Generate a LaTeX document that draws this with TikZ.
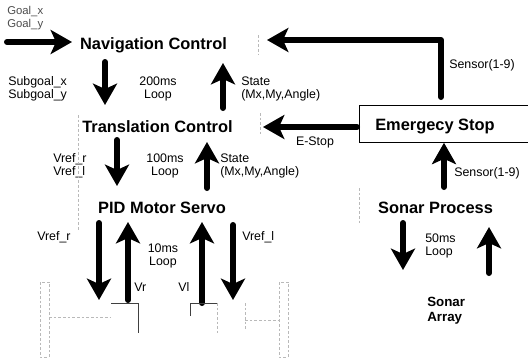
\documentclass[tikz,border=0pt]{standalone}
\usepackage{fontspec}
\setmainfont{Liberation Sans}
\usetikzlibrary{arrows.meta}

\begin{document}
\begin{tikzpicture}[x=0.75pt, y=-0.75pt,
    bigarrow/.style={line width=4.5pt, line cap=round, line join=round,
        -{Stealth[length=16pt, width=18pt, inset=4pt]}},
    title/.style={font=\fontsize{12.3}{14}\selectfont\bfseries, inner sep=0pt},
    lbl/.style={font=\fontsize{9.3}{9.75}\selectfont, inner sep=0pt},
    ghost/.style={gray!55, line width=0.4pt, dash pattern=on 2pt off 1.5pt},
    frame/.style={black!75, line width=0.5pt}]
    \useasboundingbox (0,0) rectangle (528,361);

    % Blocks
    \node[title] (nav) at (153.5,45) {Navigation Control};
    \node[title] (trans) at (157.5,127) {Translation Control};
    \node[title] (pid) at (162,208) {PID Motor Servo};
    \node[draw, line width=0.6pt, minimum width=130pt, minimum height=27.75pt,
        anchor=north west, inner sep=0pt] (estopbox) at (359,105) {};
    \node[title] (estop) at (435,127) {Emergecy Stop};
    \node[title] (sonar) at (435.5,208) {Sonar Process};
    \node[title, font=\fontsize{10}{11.25}\selectfont\bfseries, align=left, anchor=west]
        (array) at (427,310.5) {Sonar\\Array};

    % Goal input
    \node[lbl, black!70, font=\fontsize{8.5}{9.75}\selectfont, align=left, anchor=west]
        (goal) at (7,18.5) {Goal\_x\\Goal\_y};
    \coordinate (goal tail) at (7,42);
    \coordinate (goal tip) at (72,42);
    \draw[bigarrow] (goal tail) -- (goal tip);

    % Navigation <-> Translation (200ms)
    \node[lbl, align=left, anchor=west] (subgoal) at (8,88.5) {Subgoal\_x\\Subgoal\_y};
    \node[lbl, align=center] (loop200) at (158,88.5) {200ms\\Loop};
    \node[lbl, align=left, anchor=west] (state1) at (241,88.5) {State\\(Mx,My,Angle)};
    \coordinate (nd tail) at (105,62);
    \coordinate (nd tip) at (105,105);
    \coordinate (nu tail) at (223,108);
    \coordinate (nu tip) at (223,63);
    \draw[bigarrow] (nd tail) -- (nd tip);
    \draw[bigarrow] (nu tail) -- (nu tip);

    % Translation <-> PID (100ms)
    \node[lbl, align=left, anchor=west] (vref1) at (53,165.5) {Vref\_r\\Vref\_l};
    \node[lbl, align=center] (loop100) at (165,165.5) {100ms\\Loop};
    \node[lbl, align=left, anchor=west] (state2) at (220,165.5) {State\\(Mx,My,Angle)};
    \coordinate (td tail) at (117,140);
    \coordinate (td tip) at (117,186);
    \coordinate (tu tail) at (207,188);
    \coordinate (tu tip) at (207,142);
    \draw[bigarrow] (td tail) -- (td tip);
    \draw[bigarrow] (tu tail) -- (tu tip);

    % PID <-> motors (10ms)
    \node[lbl, anchor=west] (vrefr) at (37,237) {Vref\_r};
    \node[lbl, anchor=west] (vrefl) at (242,237) {Vref\_l};
    \node[lbl, align=center] (loop10) at (163,255.5) {10ms\\Loop};
    \node[lbl, anchor=west] (vr) at (134,287) {Vr};
    \node[lbl, anchor=west] (vl) at (178,287) {Vl};
    \coordinate (pd1 tail) at (99,223);
    \coordinate (pd1 tip) at (99,300);
    \coordinate (pu1 tail) at (128,300);
    \coordinate (pu1 tip) at (128,222);
    \coordinate (pu2 tail) at (202,303);
    \coordinate (pu2 tip) at (202,222);
    \coordinate (pd2 tail) at (233,225);
    \coordinate (pd2 tip) at (233,300);
    \draw[bigarrow] (pd1 tail) -- (pd1 tip);
    \draw[bigarrow] (pu1 tail) -- (pu1 tip);
    \draw[bigarrow] (pu2 tail) -- (pu2 tip);
    \draw[bigarrow] (pd2 tail) -- (pd2 tip);

    % Emergency stop paths
    \node[lbl, anchor=west] (sens1) at (449,65) {Sensor(1-9)};
    \node[lbl] (estoplbl) at (315,142) {E-Stop};
    \node[lbl, anchor=west] (sens2) at (454,173) {Sensor(1-9)};
    \coordinate (es tail) at (441,97);
    \coordinate (es tip) at (267,40);
    \coordinate (et tail) at (357,127);
    \coordinate (et tip) at (263,127);
    \coordinate (ss tail) at (444,187);
    \draw[bigarrow] (es tail) |- (es tip);
    \draw[bigarrow] (et tail) -- (et tip);
    \draw[bigarrow] (ss tail) -- (estopbox.south -| ss tail);

    % Sonar loop (50ms)
    \node[lbl, align=left, anchor=west] (loop50) at (425,245.5) {50ms\\Loop};
    \coordinate (sd tail) at (403,223);
    \coordinate (sd tip) at (403,270);
    \coordinate (su tail) at (489,273);
    \coordinate (su tip) at (489,227);
    \draw[bigarrow] (sd tail) -- (sd tip);
    \draw[bigarrow] (su tail) -- (su tip);

    % Faint frame remains
    \draw[ghost] (258,35) -- (258,55);
    \draw[ghost] (78,115) -- (78,230);
    \draw[ghost] (260,113) -- (260,135);
    \draw[ghost] (359,188) -- (359,223);

    % Wheels and motors
    \draw[ghost] (40,282) rectangle (49,357);
    \draw[ghost] (279,282) rectangle (288,357);
    \draw[frame] (111,303) -- (138,303) -- (138,333);
    \draw[frame] (190,316) -- (190,303) -- (217,303);
    \draw[ghost] (217,303) -- (217,333);
    \draw[ghost] (245,303) -- (245,330);
    \draw[ghost] (49,317) -- (111,317);
    \draw[ghost] (245,320) -- (279,320);
\end{tikzpicture}
\end{document}
